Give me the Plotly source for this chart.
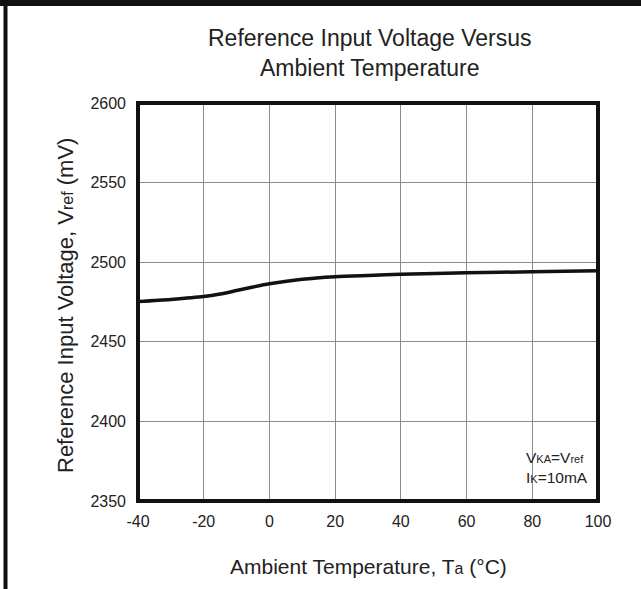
import plotly.graph_objects as go

temps = [-40, -30, -20, -15, -10, -5, 0, 10, 20, 30, 40, 60, 80, 100]
vref = [2475.3, 2476.6, 2478.4, 2480.0, 2482.2, 2484.4, 2486.4, 2489.3, 2490.9, 2491.7, 2492.4, 2493.3, 2494.0, 2494.7]

x_ticks = [-40, -20, 0, 20, 40, 60, 80, 100]
y_ticks = [2350, 2400, 2450, 2500, 2550, 2600]

FONT = "Liberation Sans, Arial, sans-serif"
TXT = "#222222"

W, H = 641, 589
L, R, T, B = 138, 43, 103, 88
PW, PH = W - L - R, H - T - B


def px(xp):
    return (xp - L) / PW


def py(yp):
    return (H - B - yp) / PH


fig = go.Figure()
fig.add_trace(go.Scatter(
    x=temps, y=vref, mode="lines",
    line=dict(color="#111111", width=3.5, shape="spline", smoothing=0.7),
    showlegend=False, hoverinfo="skip"))

axis_common = dict(showgrid=True, gridcolor="#8c8c8c", gridwidth=1,
                   showline=False, ticks="", zeroline=False,
                   tickfont=dict(size=16, color=TXT, family=FONT))

fig.update_layout(
    width=W, height=H,
    margin=dict(l=L, r=R, t=T, b=B),
    paper_bgcolor="white", plot_bgcolor="white",
    font=dict(family=FONT, color=TXT),
    showlegend=False,
    xaxis=dict(range=[-40, 100], tickvals=x_ticks, ticktext=[str(v) for v in x_ticks],
               ticklabelstandoff=9, **axis_common),
    yaxis=dict(range=[2350, 2600], tickvals=y_ticks, ticktext=[str(v) for v in y_ticks],
               ticklabelstandoff=11, **axis_common),
)

# chart title
fig.add_annotation(x=px(370), y=py(53), xref="paper", yref="paper",
                   xanchor="center", yanchor="middle", showarrow=False,
                   text="Reference Input Voltage Versus<br>Ambient Temperature",
                   font=dict(size=23, color=TXT, family=FONT))

# x axis title
fig.add_annotation(x=px(368), y=py(566), xref="paper", yref="paper",
                   xanchor="center", yanchor="middle", showarrow=False,
                   text='Ambient Temperature, T<span style="font-size:16px">a</span> (°C)',
                   font=dict(size=21, color=TXT, family=FONT))

# y axis title
fig.add_annotation(x=px(65), y=py(306), xref="paper", yref="paper",
                   xanchor="center", yanchor="middle", showarrow=False, textangle=-90,
                   text='Reference Input Voltage, V<span style="font-size:16px">ref</span> (mV)',
                   font=dict(size=22, color=TXT, family=FONT))

# condition note
fig.add_annotation(x=px(590), y=py(488), xref="paper", yref="paper",
                   xanchor="right", yanchor="bottom", showarrow=False, align="left",
                   text='V<span style="font-size:11px">KA</span>=V<span style="font-size:11px">ref</span><br>'
                        'I<span style="font-size:11px">K</span>=10mA',
                   font=dict(size=15.5, color=TXT, family=FONT))

# plot frame
fig.add_shape(type="rect", xref="paper", yref="paper", x0=0, x1=1, y0=0, y1=1,
              line=dict(color="#111111", width=4), layer="above")

# outer page frame lines (top and left)
fig.add_shape(type="line", xref="paper", yref="paper", x0=px(0), x1=px(W),
              y0=py(3), y1=py(3), line=dict(color="#111111", width=6), layer="above")
fig.add_shape(type="line", xref="paper", yref="paper", x0=px(5.5), x1=px(5.5),
              y0=py(0), y1=py(H), line=dict(color="#111111", width=4), layer="above")

fig.write_html("out.html", config={"displayModeBar": False},
               post_script="document.body.style.margin='0px';")
